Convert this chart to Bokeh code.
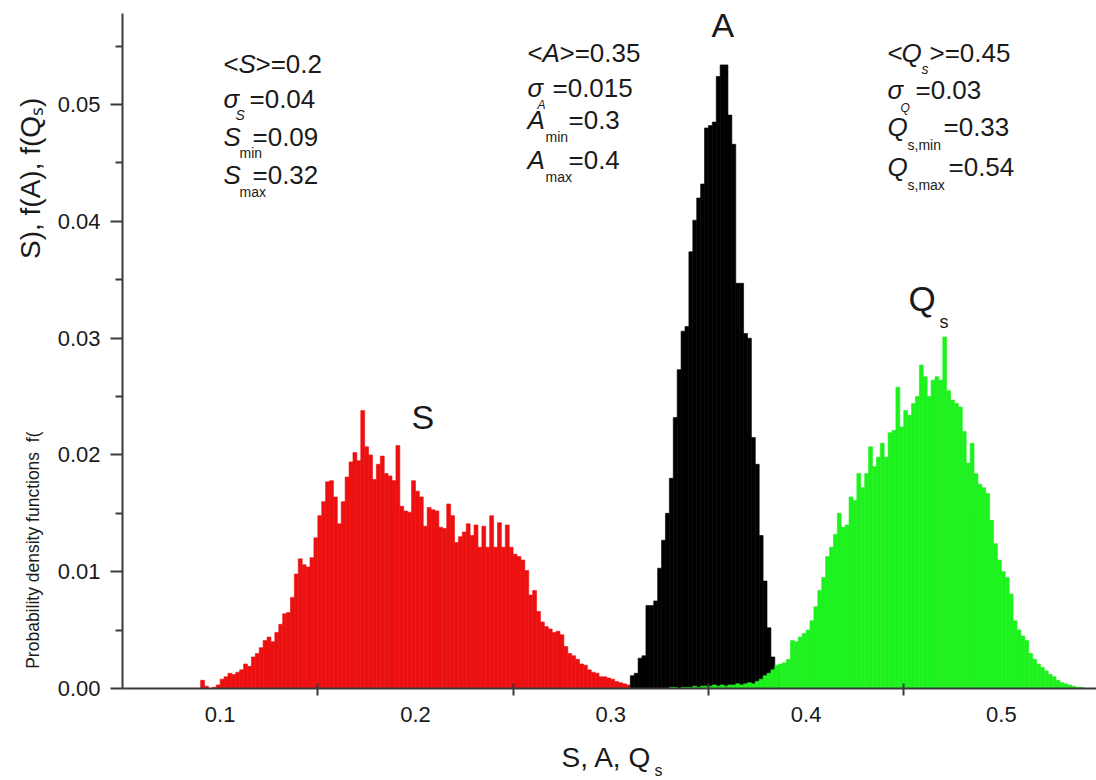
import math
from bokeh.plotting import figure
from bokeh.layouts import column, row
from bokeh.models import Range1d, FixedTicker, PrintfTickFormatter, Label, ColumnDataSource
from bokeh.embed import file_html
from bokeh.resources import INLINE

# ---------------- data (bin heights, bin width 0.002) ----------------
bin_width = 0.002

s_start = 0.090
s_values = [0.0007, 0.0002, 0.0000, 0.0001, 0.0003, 0.0008, 0.0010, 0.0013, 0.0012, 0.0014,
            0.0016, 0.0021, 0.0019, 0.0027, 0.0030, 0.0035, 0.0041, 0.0044, 0.0040, 0.0048,
            0.0055, 0.0064, 0.0065, 0.0078, 0.0098, 0.0111, 0.0106, 0.0104, 0.0112, 0.0129,
            0.0148, 0.0160, 0.0177, 0.0178, 0.0164, 0.0141, 0.0160, 0.0181, 0.0194, 0.0202,
            0.0195, 0.0238, 0.0207, 0.0200, 0.0179, 0.0192, 0.0199, 0.0184, 0.0182, 0.0178,
            0.0208, 0.0156, 0.0152, 0.0151, 0.0178, 0.0169, 0.0164, 0.0139, 0.0155, 0.0153,
            0.0152, 0.0138, 0.0137, 0.0158, 0.0148, 0.0125, 0.0130, 0.0134, 0.0141, 0.0131,
            0.0140, 0.0121, 0.0139, 0.0121, 0.0148, 0.0121, 0.0142, 0.0121, 0.0140, 0.0121,
            0.0115, 0.0113, 0.0110, 0.0101, 0.0080, 0.0084, 0.0066, 0.0057, 0.0053, 0.0051,
            0.0048, 0.0049, 0.0046, 0.0036, 0.0030, 0.0028, 0.0025, 0.0021, 0.0020, 0.0016,
            0.0014, 0.0013, 0.0010, 0.0010, 0.0009, 0.0008, 0.0006, 0.0005, 0.0004, 0.0003,
            0.0002]

a_start = 0.310
a_values = [0.0011, 0.0013, 0.0026, 0.0028, 0.0071, 0.0071, 0.0075, 0.0103, 0.0127, 0.0150,
            0.0180, 0.0232, 0.0273, 0.0306, 0.0310, 0.0374, 0.0401, 0.0420, 0.0432, 0.0480,
            0.0482, 0.0485, 0.0524, 0.0534, 0.0534, 0.0491, 0.0466, 0.0347, 0.0347, 0.0304,
            0.0300, 0.0215, 0.0192, 0.0131, 0.0092, 0.0052, 0.0027, 0.0018]

q_start = 0.330
q_values = [0.0001, 0.0001, 0.0000, 0.0001, 0.0001, 0.0001, 0.0002, 0.0001, 0.0002, 0.0002,
            0.0002, 0.0003, 0.0002, 0.0003, 0.0002, 0.0003, 0.0003, 0.0004, 0.0003, 0.0004,
            0.0005, 0.0004, 0.0006, 0.0008, 0.0011, 0.0013, 0.0016, 0.0020, 0.0021, 0.0022,
            0.0025, 0.0041, 0.0040, 0.0044, 0.0047, 0.0050, 0.0058, 0.0070, 0.0084, 0.0095,
            0.0113, 0.0121, 0.0132, 0.0150, 0.0138, 0.0140, 0.0164, 0.0161, 0.0184, 0.0172,
            0.0184, 0.0207, 0.0190, 0.0198, 0.0210, 0.0198, 0.0219, 0.0221, 0.0258, 0.0224,
            0.0238, 0.0234, 0.0244, 0.0250, 0.0277, 0.0267, 0.0250, 0.0264, 0.0267, 0.0264,
            0.0301, 0.0255, 0.0247, 0.0244, 0.0241, 0.0220, 0.0193, 0.0210, 0.0184, 0.0175,
            0.0172, 0.0167, 0.0144, 0.0124, 0.0110, 0.0100, 0.0095, 0.0081, 0.0058, 0.0050,
            0.0045, 0.0041, 0.0030, 0.0025, 0.0021, 0.0018, 0.0015, 0.0012, 0.0010, 0.0007,
            0.0005, 0.0004, 0.0003, 0.0002, 0.0001, 0.0001]

x_ticks = [0.1, 0.2, 0.3, 0.4, 0.5]
x_minor = [0.15, 0.25, 0.35, 0.45]
y_ticks = [0.0, 0.01, 0.02, 0.03, 0.04, 0.05]
y_minor = [0.005, 0.015, 0.025, 0.035, 0.045, 0.055]

# ---------------- layout geometry (page pixels) ----------------
W, H = 1096, 780
YLAB_W = 50          # strip on the left for the y title
XLAB_H = 45          # strip at the bottom for the x title
L, R, T, B = 122, 1096, 13, 688   # plot frame on the page
X0, X1 = 0.05, 0.5487
Y0, Y1 = 0.0, 0.0578

FONT = "Liberation Sans"
TXT = "#1a1a1a"
BASE_SHIFT = 0.41   # label baseline correction (fraction of font size)

PW, PH = W - YLAB_W, H - XLAB_H
p = figure(width=PW, height=PH, output_backend="svg", toolbar_location=None,
           x_range=Range1d(X0, X1), y_range=Range1d(Y0, Y1),
           min_border_left=L - YLAB_W, min_border_right=W - R, min_border_top=T,
           min_border_bottom=PH - B)
p.outline_line_color = None
p.xgrid.visible = False
p.ygrid.visible = False
p.background_fill_color = "white"
p.border_fill_color = "white"


def hist_source(start, vals):
    left = [start + i * bin_width for i in range(len(vals))]
    right = [l + bin_width for l in left]
    return ColumnDataSource(dict(left=left, right=right, top=vals, bottom=[0.0] * len(vals)))


p.quad(left="left", right="right", top="top", bottom="bottom", source=hist_source(s_start, s_values),
       fill_color="#ec1010", line_color="#ec1010", line_width=0.6)
p.quad(left="left", right="right", top="top", bottom="bottom", source=hist_source(a_start, a_values),
       fill_color="#000000", line_color="#000000", line_width=0.6)
p.quad(left="left", right="right", top="top", bottom="bottom", source=hist_source(q_start, q_values),
       fill_color="#1ef21e", line_color="#1ef21e", line_width=0.6)

# axes
xa = p.xaxis[0]
xa.ticker = FixedTicker(ticks=x_ticks, minor_ticks=x_minor)
xa.formatter = PrintfTickFormatter(format="%.1f")
xa.major_tick_out = 0
xa.major_tick_in = 0
xa.minor_tick_out = 7
xa.minor_tick_in = 5
xa.major_label_standoff = 11
ya = p.yaxis[0]
ya.ticker = FixedTicker(ticks=y_ticks, minor_ticks=y_minor)
ya.formatter = PrintfTickFormatter(format="%.2f")
ya.major_tick_out = 12
ya.major_tick_in = 0
ya.minor_tick_out = 7
ya.minor_tick_in = 0
ya.major_label_standoff = 10
for ax in (xa, ya):
    ax.axis_line_color = "#3a3a3a"
    ax.axis_line_width = 2
    ax.major_tick_line_color = "#3a3a3a"
    ax.major_tick_line_width = 2
    ax.minor_tick_line_color = "#3a3a3a"
    ax.minor_tick_line_width = 2
    ax.major_label_text_font = FONT
    ax.major_label_text_font_size = "22px"
    ax.major_label_text_color = TXT


def dx(px):
    return X0 + (px - L) * (X1 - X0) / (R - L)


def dy(py):
    return Y0 + (B - py) * (Y1 - Y0) / (B - T)


def put(text, px, py, size, italic=False):
    py = py - BASE_SHIFT * size
    p.add_layout(Label(x=dx(px), y=dy(py), text=text, text_font=FONT,
                       text_font_size=f"{size}px",
                       text_font_style="italic" if italic else "normal",
                       text_baseline="alphabetic", text_align="left",
                       text_color=TXT))


F = 26
SUB = 14
# S block
put("<", 223, 74, F); put("S", 238, 74, F, True); put(">=0.2", 255, 74, F)
put("σ", 223, 109, F, True); put("S", 235, 120, SUB, True); put("=0.04", 249, 109, F)
put("S", 223, 147, F, True); put("min", 239, 158, SUB); put("=0.09", 252, 147, F)
put("S", 223, 185, F, True); put("max", 239, 197, SUB); put("=0.32", 252, 185, F)
# A block
put("<", 527, 63, F); put("A", 542, 63, F, True); put(">=0.35", 559, 63, F)
put("σ", 527, 98, F, True); put("A", 537, 109, 12, True); put("=0.015", 552, 98, F)
put("A", 527, 130, F, True); put("min", 545, 142, SUB); put("=0.3", 568, 130, F)
put("A", 527, 170, F, True); put("max", 545, 182, SUB); put("=0.4", 568, 170, F)
# Q block
put("<", 887, 63, F); put("Q", 901, 63, F, True); put("s", 921, 74, SUB, True); put(">=0.45", 929, 63, F)
put("σ", 887, 100, F, True); put("Q", 900, 112, 12, True); put("=0.03", 915, 100, F)
put("Q", 887, 137, F, True); put("s,min", 907, 150, SUB); put("=0.33", 943, 137, F)
put("Q", 887, 177, F, True); put("s,max", 907, 190, SUB); put("=0.54", 948, 177, F)

# curve labels
put("S", 411, 430, 34)
put("A", 711, 38, 34)
put("Q", 908, 312, 35); put("s", 939, 329, 18)


# ---------------- title strips (plain canvases in page pixels) ----------------
def strip(width, height, y_top):
    f = figure(width=width, height=height, output_backend="svg", toolbar_location=None,
               x_range=Range1d(0, width), y_range=Range1d(y_top + height, y_top),
               min_border=0, min_border_left=0, min_border_right=0,
               min_border_top=0, min_border_bottom=0)
    f.axis.visible = False
    f.grid.visible = False
    f.outline_line_color = None
    f.background_fill_color = "white"
    f.border_fill_color = "white"
    return f


def put_on(f, text, px, py, size):
    py = py - BASE_SHIFT * size
    f.add_layout(Label(x=px, y=py, text=text, text_font=FONT, text_font_size=f"{size}px",
                       text_baseline="alphabetic", text_align="left", text_color=TXT))


def put_rot(f, text, cx, cy, size):
    f.add_layout(Label(x=cx, y=cy, text=text, text_font=FONT, text_font_size=f"{size}px",
                       text_baseline="middle", text_align="center", text_color=TXT,
                       angle=math.pi / 2))


yfig = strip(YLAB_W, PH, 0)
S1 = 17.5
put_rot(yfig, "Probability density functions\u00a0\u00a0f(", 32, 673 - 13.56 * S1 / 2 + 30, S1)
S2 = 28
y2 = 262
w2 = 5.113 * S2 + 0.45 * S2 + 0.333 * S2
put_rot(yfig, "S), f(A), f(Q\u209b)", 30, y2 - w2 / 2, S2)

xfig = strip(W, XLAB_H, PH)
put_on(xfig, "S, A, Q", 561, 768, 28)
put_on(xfig, "s", 654, 777, 16)

layout = column(row(yfig, p, spacing=0), xfig, spacing=0)
open("out.html", "w").write(file_html(layout, INLINE))
